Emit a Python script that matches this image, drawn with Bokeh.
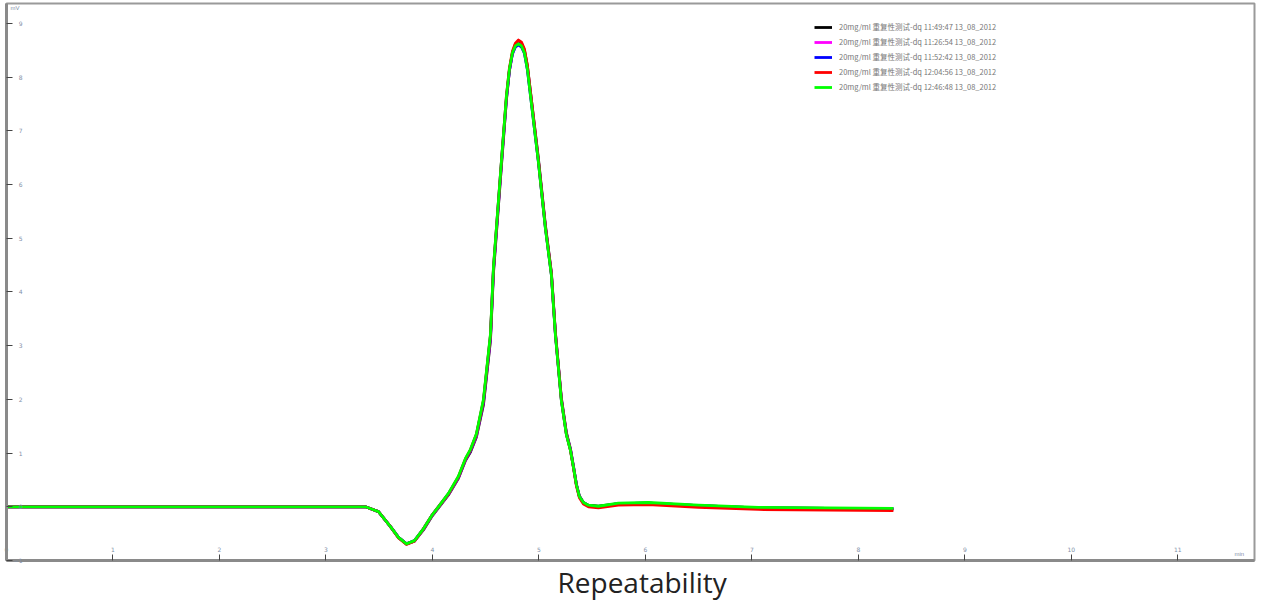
from bokeh.plotting import figure
from bokeh.models import Range1d, FixedTicker, Legend, LegendItem, Title, Label
from bokeh.embed import file_html
from bokeh.resources import INLINE

# retention time (min)
rt = [0.0, 3.117, 3.371, 3.493, 3.606, 3.681, 3.756, 3.831, 3.915, 3.991, 4.056,
      4.150, 4.244, 4.310, 4.357, 4.413, 4.479, 4.545, 4.573, 4.601, 4.648, 4.695,
      4.723, 4.751, 4.779, 4.808, 4.836, 4.864, 4.892, 4.920, 4.958, 4.995, 5.061,
      5.117, 5.155, 5.211, 5.258, 5.296, 5.324, 5.352, 5.380, 5.418, 5.465, 5.559,
      5.746, 6.028, 6.498, 7.061, 8.329]

run1 = [0, 0, 0, -0.09, -0.37, -0.57, -0.69, -0.64, -0.43, -0.19, -0.02, 0.22, 0.53,
        0.86, 1.02, 1.30, 1.90, 3.10, 4.35, 5.10, 6.35, 7.58, 8.12, 8.45, 8.61, 8.66,
        8.63, 8.50, 8.20, 7.74, 7.10, 6.48, 5.24, 4.36, 3.24, 2.02, 1.38, 1.08, 0.76,
        0.42, 0.20, 0.08, 0.03, 0.01, 0.06, 0.07, 0.02, -0.02, -0.04]
run2 = [0, 0, 0, -0.09, -0.37, -0.57, -0.69, -0.64, -0.42, -0.18, -0.01, 0.23, 0.54,
        0.87, 1.04, 1.32, 1.94, 3.14, 4.40, 5.14, 6.38, 7.60, 8.12, 8.43, 8.57, 8.62,
        8.59, 8.46, 8.16, 7.70, 7.06, 6.44, 5.20, 4.33, 3.22, 2.00, 1.36, 1.07, 0.75,
        0.41, 0.19, 0.07, 0.02, 0.0, 0.06, 0.07, 0.02, -0.02, -0.04]
run3 = [0, 0, 0, -0.09, -0.37, -0.57, -0.69, -0.63, -0.41, -0.17, 0.0, 0.24, 0.55,
        0.88, 1.05, 1.34, 1.96, 3.18, 4.42, 5.17, 6.42, 7.62, 8.13, 8.43, 8.56, 8.60,
        8.56, 8.44, 8.13, 7.67, 7.03, 6.42, 5.19, 4.32, 3.20, 1.98, 1.35, 1.06, 0.74,
        0.41, 0.19, 0.07, 0.02, 0.0, 0.06, 0.07, 0.02, -0.02, -0.04]
run4 = [0, 0, 0, -0.09, -0.37, -0.58, -0.70, -0.64, -0.41, -0.17, 0.0, 0.24, 0.56,
        0.89, 1.06, 1.35, 1.98, 3.20, 4.44, 5.19, 6.43, 7.66, 8.17, 8.48, 8.63, 8.69,
        8.65, 8.52, 8.21, 7.73, 7.08, 6.45, 5.21, 4.34, 3.22, 1.99, 1.35, 1.05, 0.73,
        0.39, 0.17, 0.05, 0.0, -0.02, 0.03, 0.04, -0.01, -0.05, -0.07]
run5 = [0, 0, 0, -0.09, -0.37, -0.57, -0.69, -0.63, -0.41, -0.17, 0.0, 0.25, 0.57,
        0.90, 1.07, 1.36, 2.00, 3.22, 4.46, 5.20, 6.44, 7.65, 8.15, 8.45, 8.58, 8.62,
        8.58, 8.45, 8.14, 7.67, 7.03, 6.42, 5.18, 4.31, 3.19, 1.97, 1.34, 1.05, 0.74,
        0.41, 0.19, 0.08, 0.03, 0.01, 0.07, 0.08, 0.03, -0.01, -0.03]

series_names = [
    "20mg/ml 重复性测试-dq 11:49:47 13_08_2012",
    "20mg/ml 重复性测试-dq 11:26:54 13_08_2012",
    "20mg/ml 重复性测试-dq 11:52:42 13_08_2012",
    "20mg/ml 重复性测试-dq 12:04:56 13_08_2012",
    "20mg/ml 重复性测试-dq 12:46:48 13_08_2012",
]
series_values = [run1, run2, run3, run4, run5]
series_colors = ["#000000", "#ff00ff", "#0000ff", "#ff0000", "#00ff00"]

x_ticks = list(range(0, 12))
y_ticks = list(range(-1, 10))

p = figure(width=1258, height=600, output_backend="svg", toolbar_location=None,
           x_range=Range1d(0, 11.72), y_range=Range1d(-1.0, 9.37),
           min_border_left=6, min_border_right=4, min_border_top=3, min_border_bottom=0)
p.grid.visible = False
p.background_fill_color = "white"
p.outline_line_color = "#9a9a9a"
p.outline_line_width = 2

for ax in (p.xaxis[0], p.yaxis[0]):
    ax.axis_line_color = "#8a8a8a"
    ax.axis_line_width = 3
    ax.major_tick_in = 6
    ax.major_tick_out = 0
    ax.major_tick_line_color = "#444444"
    ax.minor_tick_line_color = None
    ax.major_label_text_font_size = "6px"
    ax.major_label_text_color = "#7f8fa8"
    ax.major_label_text_font = "DejaVu Sans"

p.xaxis[0].ticker = FixedTicker(ticks=x_ticks)
p.yaxis[0].ticker = FixedTicker(ticks=y_ticks)
p.yaxis[0].major_label_standoff = -16
p.xaxis[0].major_label_standoff = -14

items = []
for name, vals, col in zip(series_names, series_values, series_colors):
    r = p.line(rt, vals, line_color=col, line_width=2.8, line_join="round")
    items.append(LegendItem(label=name, renderers=[r]))

legend = Legend(items=items, location=(808, 468), border_line_color=None,
                background_fill_alpha=0, label_text_font_size="7.5px",
                label_text_color="#777777", glyph_width=18, glyph_height=10,
                label_height=10, spacing=4, padding=6, label_standoff=7,
                label_text_font="Noto Sans CJK SC")
p.add_layout(legend)

p.add_layout(Label(x=4, y=550, x_units="screen", y_units="screen", text="mV",
                   text_font_size="6px", text_color="#7f8fa8"))
p.add_layout(Label(x=1228, y=4, x_units="screen", y_units="screen", text="min",
                   text_font_size="6px", text_color="#7f8fa8"))

p.add_layout(Title(text="Repeatability", align="left", offset=551, text_font_size="28px",
                   text_font="Open Sans", text_font_style="normal",
                   text_color="#222222", standoff=0), "below")

open("out.html", "w").write(file_html(p, INLINE))
